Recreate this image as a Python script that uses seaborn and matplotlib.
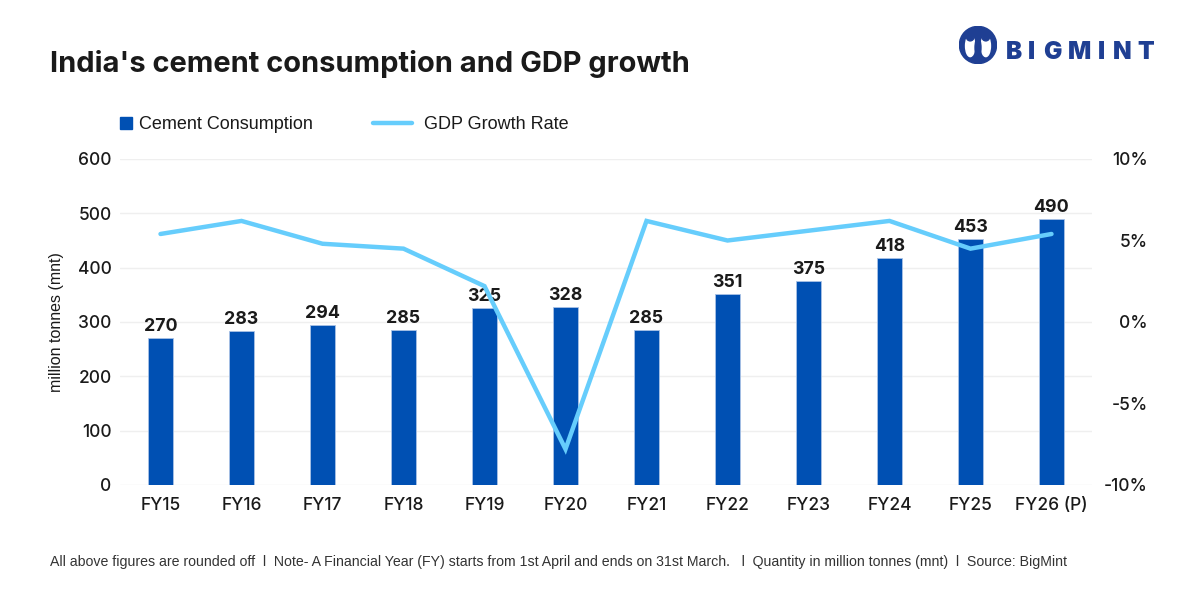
import numpy as np
import pandas as pd
import matplotlib
matplotlib.use("Agg")
import matplotlib.pyplot as plt
from matplotlib.patches import Circle, Ellipse, Patch
from matplotlib.lines import Line2D
import seaborn as sns

years = ["FY15", "FY16", "FY17", "FY18", "FY19", "FY20", "FY21", "FY22", "FY23", "FY24", "FY25", "FY26 (P)"]
cement = [270, 283, 294, 285, 325, 328, 285, 351, 375, 418, 453, 490]
gdp = [5.4, 6.2, 4.8, 4.5, 2.2, -7.8, 6.2, 5.0, 5.6, 6.2, 4.5, 5.4]
left_ticks = [0, 100, 200, 300, 400, 500, 600]
right_ticks = [-10, -5, 0, 5, 10]

BAR = "#0050b3"
LINE = "#66cdfc"
TXT = "#1a1a1a"

sns.set_theme(style="white")
plt.rcParams['font.family'] = ['Inter', 'DejaVu Sans']

df = pd.DataFrame({"year": years, "cement": cement, "gdp": gdp})

fig = plt.figure(figsize=(12, 6), dpi=100)
ax = fig.add_axes([0.1, 0.1917, 0.81, 0.5433])

sns.barplot(data=df, x="year", y="cement", color=BAR, width=0.31, ax=ax,
            saturation=1, edgecolor="#a9c2e6", linewidth=0.6, zorder=2)
ax.set_ylim(0, 600)
ax.set_yticks(left_ticks)
ax.set_xlim(-0.5, len(years) - 0.5)
ax.grid(axis="y", color="#efefef", linewidth=1, zorder=0)
ax.set_axisbelow(True)
for s in ax.spines.values():
    s.set_visible(False)
ax.tick_params(axis="both", length=0, labelsize=12.5, colors=TXT)
ax.tick_params(axis="y", pad=6)
ax.tick_params(axis="x", pad=9)
for lab in ax.get_xticklabels() + ax.get_yticklabels():
    lab.set_fontweight("medium")
ax.set_xlabel("")
ax.set_ylabel("million tonnes (mnt)", fontsize=11.5, color=TXT, labelpad=10,
              family=['Liberation Sans', 'DejaVu Sans'])

for i, v in enumerate(cement):
    ax.text(i, v + 6, f"{v}", ha="center", va="bottom", fontsize=12.8,
            fontweight="bold", color=TXT, zorder=5)

ax2 = ax.twinx()
sns.lineplot(x=np.arange(len(years)), y=gdp, ax=ax2, color=LINE, linewidth=3.2,
             zorder=4, solid_capstyle="round", solid_joinstyle="miter")
ax2.set_ylim(-10, 10)
ax2.set_yticks(right_ticks)
ax2.set_yticklabels([f"{t}%" for t in right_ticks])
for s in ax2.spines.values():
    s.set_visible(False)
ax2.tick_params(axis="y", length=0, labelsize=12.5, colors=TXT, pad=40)
for lab in ax2.get_yticklabels():
    lab.set_ha("right")
    lab.set_fontweight("medium")
ax2.grid(False)
ax2.set_xlim(-0.5, len(years) - 0.5)

# Title
fig.text(0.042, 0.893, "India's cement consumption and GDP growth", fontsize=20.9,
         fontweight="bold", color=TXT, ha="left", va="center")

# Legends
leg1 = fig.legend(handles=[Patch(facecolor=BAR, edgecolor=BAR)], labels=["Cement Consumption"],
                  loc="center left", bbox_to_anchor=(0.1, 0.792), frameon=False,
                  handlelength=0.65, handleheight=0.65, handletextpad=0.4,
                  borderaxespad=0, borderpad=0,
                  prop={"family": ["Liberation Sans", "DejaVu Sans"], "size": 13})
leg2 = fig.legend(handles=[Line2D([0], [0], color=LINE, linewidth=3.2, solid_capstyle="round")],
                  labels=["GDP Growth Rate"],
                  loc="center left", bbox_to_anchor=(0.311, 0.792), frameon=False,
                  handlelength=2.15, handletextpad=0.66,
                  borderaxespad=0, borderpad=0,
                  prop={"family": ["Liberation Sans", "DejaVu Sans"], "size": 13})
for lg in (leg1, leg2):
    for t in lg.get_texts():
        t.set_color(TXT)

# Footer
fig.text(0.042, 0.063,
         "All above figures are rounded off  l  Note- A Financial Year (FY) starts from 1st April and ends on 31st March.   l  Quantity in million tonnes (mnt)  l  Source: BigMint",
         fontsize=10.2, color="#333333", ha="left", va="center",
         family=["Liberation Sans", "DejaVu Sans"])

# Logo
LOGO = "#1f3f93"
lax = fig.add_axes([0.7995, 0.894, 0.031, 0.062])
lax.set_xlim(-1, 1)
lax.set_ylim(-1, 1)
lax.set_aspect("equal")
lax.axis("off")
lax.add_patch(Circle((0, 0), 1, color=LOGO))
lax.add_patch(Ellipse((-0.42, -0.05), 0.5, 1.15, color="white"))
lax.add_patch(Ellipse((0.42, -0.05), 0.5, 1.15, color="white"))
lax.add_patch(Circle((-0.42, 0.42), 0.2, color=LOGO))
lax.add_patch(Circle((0.42, 0.42), 0.2, color=LOGO))
lax.add_patch(Ellipse((0, -0.15), 0.32, 1.05, color=LOGO))

x0 = 0.838
for ch, w in zip("BIGMINT", [0.0185, 0.0125, 0.0205, 0.025, 0.0125, 0.0205, 0.018]):
    fig.text(x0, 0.913, ch, fontsize=17.5, fontweight="black", color=LOGO, ha="left", va="center")
    x0 += w

fig.savefig("out.png", dpi=100, facecolor="white")
